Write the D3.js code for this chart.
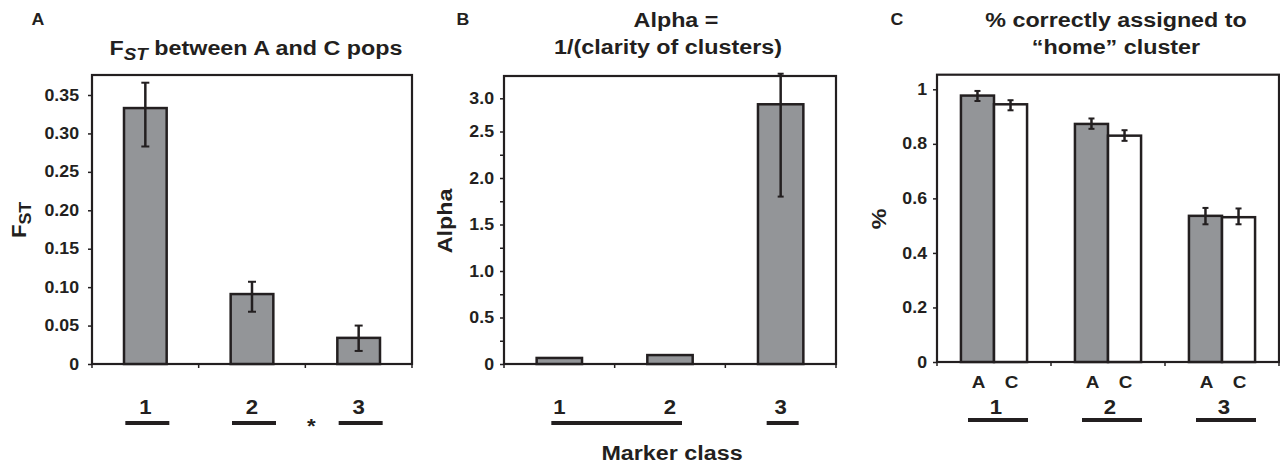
<!DOCTYPE html>
<html>
<head>
  <meta charset="utf-8">
  <title>Marker class comparison</title>
  <script src="https://cdn.jsdelivr.net/npm/d3@7"></script>
  <style>
    body { margin: 0; background: #fff; }
    svg text { font-family: "Liberation Sans", Arial, sans-serif; font-weight: bold; fill: #231f20; }
  </style>
</head>
<body>
<script>

// ---- data ----
var classes = ["1", "2", "3"];

// panel A : Fst between A and C pops
var fstMean = [0.333, 0.091, 0.034];
var fstLow  = [0.283, 0.068, 0.017];
var fstHigh = [0.366, 0.107, 0.050];
var fstTicks = [0, 0.05, 0.10, 0.15, 0.20, 0.25, 0.30, 0.35];
var fstGroups = [["1"], ["2"], ["3"]];

// panel B : alpha
var alphaMean = [0.065, 0.096, 2.91];
var alphaLow  = [null, null, 1.80];
var alphaHigh = [null, null, 3.37];
var alphaTicks = [0, 0.25, 0.5, 0.75, 1.0, 1.25, 1.5, 1.75, 2.0, 2.25, 2.5, 3.0];
var alphaLabelled = [0, 0.5, 1.0, 1.5, 2.0, 2.5, 3.0];
var alphaGroups = [["1", "2"], ["3"]];

// panel C : % correctly assigned
var pops = ["A", "C"];
var pctA = [0.977, 0.873, 0.536];
var pctC = [0.945, 0.830, 0.531];
var pctALow  = [0.957, 0.855, 0.505];
var pctAHigh = [0.994, 0.893, 0.565];
var pctCLow  = [0.923, 0.811, 0.505];
var pctCHigh = [0.960, 0.850, 0.563];
var pctTicks = [0, 0.2, 0.4, 0.6, 0.8, 1];
var pctGroups = [["1"], ["2"], ["3"]];

var ink = "#231f20";
var grey = "#939598";
var stretch = 1.11;   // the original lettering is a bit wider than Arial

var svg = d3.select("body").append("svg")
    .attr("width", 1280)
    .attr("height", 466);

// frame, y axis and the little ticks under the x axis
function frame(box, y, ticks, fmt, x, pad) {
  var g = svg.append("g");
  g.append("rect")
      .attr("x", box.left).attr("y", box.top)
      .attr("width", box.right - box.left).attr("height", box.bottom - box.top)
      .attr("fill", "none").attr("stroke", ink).attr("stroke-width", 2.2);

  var ax = g.append("g")
      .attr("transform", "translate(" + box.left + ",0)")
      .call(d3.axisLeft(y).tickValues(ticks).tickSize(4).tickSizeOuter(0).tickPadding(pad).tickFormat(fmt));
  ax.select(".domain").remove();
  ax.selectAll(".tick line").attr("stroke", ink).attr("stroke-width", 1.5);
  ax.selectAll(".tick text").attr("font-size", 16).attr("fill", ink)
      .attr("transform", "scale(" + stretch + ",1)")
      .style("font-family", "'Liberation Sans', Arial, sans-serif").style("font-weight", "bold");

  var edges = x.domain().map(function(d) { return x(d); }).concat([x.range()[1]]);
  g.selectAll(".xt").data(edges).enter().append("line")
      .attr("x1", function(d) { return d; }).attr("x2", function(d) { return d; })
      .attr("y1", box.bottom).attr("y2", box.bottom + 4)
      .attr("stroke", ink).attr("stroke-width", 1.5);
  return g;
}

function errBar(g, cx, y, lo, hi, cap) {
  g.append("line").attr("x1", cx).attr("x2", cx).attr("y1", y(lo)).attr("y2", y(hi))
      .attr("stroke", ink).attr("stroke-width", 2.5);
  [lo, hi].forEach(function(v) {
    g.append("line").attr("x1", cx - cap).attr("x2", cx + cap).attr("y1", y(v)).attr("y2", y(v))
        .attr("stroke", ink).attr("stroke-width", 2);
  });
}

function underlines(groups, x, yLine, half, ext, dx) {
  groups.forEach(function(grp) {
    var a = x(grp[0]) + x.bandwidth() / 2 + dx;
    var b = x(grp[grp.length - 1]) + x.bandwidth() / 2 + dx;
    var h = grp.length > 1 ? ext : half;
    svg.append("line").attr("x1", a - h).attr("x2", b + h).attr("y1", yLine).attr("y2", yLine)
        .attr("stroke", ink).attr("stroke-width", 4);
  });
}

function label(x, y, s, size, rot) {
  var t = svg.append("text").attr("font-size", size).attr("text-anchor", "middle")
      .attr("transform", "translate(" + x + "," + y + ")" + (rot ? " rotate(-90)" : "") +
            " scale(" + stretch + ",1)");
  return t.text(s);
}

// ---------------- panel A ----------------
var boxA = {left: 92, right: 412, top: 75, bottom: 364};
var xA = d3.scaleBand().domain(classes).range([boxA.left, boxA.right]);
var yA = d3.scaleLinear().domain([0, 0.35]).range([boxA.bottom, 95]);
var gA = frame(boxA, yA, fstTicks, function(d) { return d === 0 ? "0" : d3.format(".2f")(d); }, xA, 7.7);

var wA = xA.bandwidth() * 0.4;
gA.selectAll(".bar").data(classes).enter().append("rect")
    .attr("x", function(d) { return xA(d) + (xA.bandwidth() - wA) / 2; })
    .attr("y", function(d, i) { return yA(fstMean[i]); })
    .attr("width", wA)
    .attr("height", function(d, i) { return yA(0) - yA(fstMean[i]); })
    .attr("fill", grey).attr("stroke", ink).attr("stroke-width", 2.5);
classes.forEach(function(c, i) {
  errBar(gA, xA(c) + xA.bandwidth() / 2, yA, fstLow[i], fstHigh[i], 4);
  label(xA(c) + xA.bandwidth() / 2, 414, c, 20);
});
underlines(fstGroups, xA, 423, 22, 22, 2);
label(xA("3") + 6, 433, "*", 20);

var tA = label(256, 55, "F", 21);
tA.append("tspan").attr("font-style", "italic").attr("font-size", 17).attr("dy", 5).text("ST");
tA.append("tspan").attr("dy", -5).text(" between A and C pops");
var lA = label(26, 220, "F", 20, true);
lA.append("tspan").attr("font-size", 16).attr("dy", 5).text("ST");
label(38, 25, "A", 16);

// ---------------- panel B ----------------
var boxB = {left: 504, right: 836, top: 76, bottom: 364};
var xB = d3.scaleBand().domain(classes).range([boxB.left, boxB.right]);
var yB = d3.scaleLinear().domain([0, 2.5, 3.0]).range([boxB.bottom, 131.5, 98.3]);
var gB = frame(boxB, yB, alphaTicks, function(d) {
  if (alphaLabelled.indexOf(d) < 0) return "";
  return d === 0 ? "0" : d3.format(".1f")(d);
}, xB, 5);

var wB = xB.bandwidth() * 0.41;
gB.selectAll(".bar").data(classes).enter().append("rect")
    .attr("x", function(d) { return xB(d) + (xB.bandwidth() - wB) / 2; })
    .attr("y", function(d, i) { return yB(alphaMean[i]); })
    .attr("width", wB)
    .attr("height", function(d, i) { return yB(0) - yB(alphaMean[i]); })
    .attr("fill", grey).attr("stroke", ink).attr("stroke-width", 2.5);
classes.forEach(function(c, i) {
  if (alphaLow[i] !== null) errBar(gB, xB(c) + xB.bandwidth() / 2, yB, alphaLow[i], alphaHigh[i], 3);
  label(xB(c) + xB.bandwidth() / 2, 414, c, 20);
});
underlines(alphaGroups, xB, 423, 16, 10, 2);

label(676, 27, "Alpha =", 21);
label(668, 54, "1/(clarity of clusters)", 21);
label(452, 221, "Alpha", 21, true);
label(463, 25, "B", 16);
label(672, 460, "Marker class", 21);

// ---------------- panel C ----------------
var boxC = {left: 937, right: 1279, top: 74.7, bottom: 362};
var xC = d3.scaleBand().domain(classes).range([boxC.left, boxC.right]);
var xC2 = d3.scaleBand().domain(pops).range([xC.bandwidth() * 0.21, xC.bandwidth() * 0.79]);
var yC = d3.scaleLinear().domain([0, 1]).range([boxC.bottom, 89.3]);
var gC = frame(boxC, yC, pctTicks, function(d) { return d === 0 || d === 1 ? String(d) : d3.format(".1f")(d); }, xC, 5);

var pctVals = {A: pctA, C: pctC};
var pctLo = {A: pctALow, C: pctCLow};
var pctHi = {A: pctAHigh, C: pctCHigh};
classes.forEach(function(c, i) {
  pops.forEach(function(p) {
    var bx = xC(c) + xC2(p);
    gC.append("rect")
        .attr("x", bx).attr("y", yC(pctVals[p][i]))
        .attr("width", xC2.bandwidth())
        .attr("height", yC(0) - yC(pctVals[p][i]))
        .attr("fill", p === "A" ? grey : "#fff").attr("stroke", ink).attr("stroke-width", 2.5);
    errBar(gC, bx + xC2.bandwidth() / 2, yC, pctLo[p][i], pctHi[p][i], 3);
    label(bx + xC2.bandwidth() / 2 + 1, 388, p, 17);
  });
  label(xC(c) + xC.bandwidth() / 2 + 2, 414, c, 20);
});
underlines(pctGroups, xC, 420, 30, 30, 4);

label(1116, 27, "% correctly assigned to", 21);
label(1116, 54, "\u201chome\u201d cluster", 21);
label(886, 219, "%", 21, true);
label(897, 25, "C", 16);

</script>
</body>
</html>
